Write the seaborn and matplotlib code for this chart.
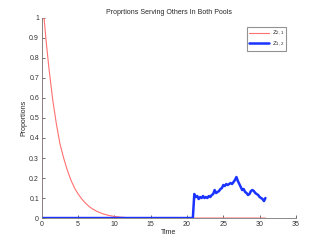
import matplotlib
matplotlib.use("Agg")
import matplotlib.pyplot as plt
import seaborn as sns
import pandas as pd

sns.set_style("ticks")
plt.rcParams["font.family"] = ["Liberation Sans", "DejaVu Sans"]
plt.rcParams["mathtext.default"] = "regular"
plt.rcParams["xtick.direction"] = "in"
plt.rcParams["ytick.direction"] = "in"

# Z_{2,1}: red curve (time, proportion)
t_red = [0, 0, 0.3, 0.6, 1.0, 1.5, 2.0, 2.5, 3.0, 3.5, 4.0, 4.5, 5.0, 5.5, 6.0,
         6.5, 7.0, 7.5, 8.0, 8.5, 9.0, 9.5, 10.0, 11.0, 12.0, 13.0, 15.0, 20.0,
         25.0, 30.8]
z21 = [0, 1, 1, 0.88, 0.74, 0.59, 0.47, 0.37, 0.30, 0.24, 0.19, 0.15, 0.12,
       0.095, 0.075, 0.058, 0.045, 0.035, 0.027, 0.02, 0.015, 0.011, 0.008,
       0.004, 0.002, 0.001, 0, 0, 0, 0]

# Z_{1,2}: blue curve (time, proportion)
t_blue = [0, 20.8, 21.0, 21.2, 21.4, 21.6, 21.8, 22.0, 22.2, 22.4, 22.6, 22.8,
          23.0, 23.2, 23.4, 23.6, 23.8, 24.0, 24.2, 24.4, 24.6, 24.8, 25.0,
          25.2, 25.4, 25.6, 25.8, 26.0, 26.2, 26.4, 26.6, 26.8, 27.0, 27.2,
          27.4, 27.6, 27.8, 28.0, 28.2, 28.4, 28.6, 28.8, 29.0, 29.2, 29.4,
          29.6, 29.8, 30.0, 30.2, 30.4, 30.6, 30.8]
z12 = [0, 0, 0.12, 0.105, 0.11, 0.095, 0.105, 0.10, 0.11, 0.10, 0.105, 0.10,
       0.11, 0.105, 0.115, 0.12, 0.14, 0.125, 0.13, 0.135, 0.145, 0.15, 0.165,
       0.16, 0.17, 0.165, 0.17, 0.175, 0.17, 0.18, 0.19, 0.205, 0.185, 0.17,
       0.155, 0.14, 0.145, 0.13, 0.125, 0.115, 0.12, 0.135, 0.14, 0.135,
       0.125, 0.12, 0.115, 0.105, 0.10, 0.095, 0.085, 0.10]

df_red = pd.DataFrame({"Time": t_red, "Proportion": z21})
df_blue = pd.DataFrame({"Time": t_blue, "Proportion": z12})

fig = plt.figure(figsize=(3.27, 2.45), dpi=100)
ax = fig.add_axes([0.128, 0.110, 0.777, 0.817])

sns.lineplot(x="Time", y="Proportion", data=df_red, sort=False, estimator=None,
             color="#ff7070", linewidth=0.8, label=r"$Z_{2,1}$", ax=ax)
sns.lineplot(x="Time", y="Proportion", data=df_blue, sort=False, estimator=None,
             color="#1a33ff", linewidth=1.8, label=r"$Z_{1,2}$", ax=ax)

ax.set_xlim(0, 35)
ax.set_ylim(0, 1)
ax.set_xticks([0, 5, 10, 15, 20, 25, 30, 35])
ax.set_yticks([0, 0.1, 0.2, 0.3, 0.4, 0.5, 0.6, 0.7, 0.8, 0.9, 1])
ax.set_yticklabels(["0", "0.1", "0.2", "0.3", "0.4", "0.5", "0.6", "0.7",
                    "0.8", "0.9", "1"])
ax.tick_params(labelsize=5, length=2, width=0.5, colors="#333333", pad=2)
for s in ["top", "right"]:
    ax.spines[s].set_visible(False)
for s in ["left", "bottom"]:
    ax.spines[s].set_linewidth(0.6)
    ax.spines[s].set_color("#777777")

ax.set_title("Proprtions Serving Others In Both Pools", fontsize=5, pad=3)
ax.set_xlabel("Time", fontsize=5, labelpad=1)
ax.set_ylabel("Proportions", fontsize=5, labelpad=1)

leg = ax.legend(loc="upper right", fontsize=4.5, frameon=True, fancybox=False,
                borderpad=0.35, handlelength=3.2, handletextpad=0.4,
                labelspacing=0.2, bbox_to_anchor=(0.975, 0.97))
leg.get_frame().set_edgecolor("#777777")
leg.get_frame().set_linewidth(0.8)

fig.savefig("out.png", dpi=100)
